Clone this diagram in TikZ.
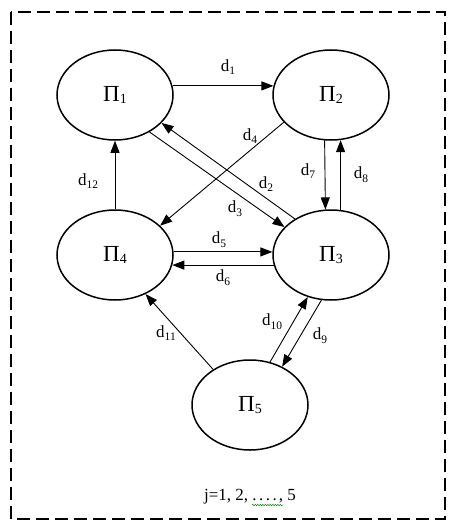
\documentclass[tikz,border=0pt]{standalone}
\usepackage{fontspec}
\setmainfont{Liberation Serif}
\usetikzlibrary{shapes.geometric,arrows.meta,decorations.pathmorphing}
\newcommand\lsub[1]{\raisebox{-0.22em}{\fontsize{11.5}{11.5}\selectfont #1}}
\newcommand\psub[1]{\raisebox{-0.12em}{\fontsize{14}{14}\selectfont #1}}
\tikzset{
  state/.style={draw, ellipse, line width=1.5pt, minimum width=116pt, minimum height=90pt, inner sep=0pt,
    font=\fontsize{23}{23}\selectfont},
  flow/.style={line width=0.9pt, -{Triangle[length=12pt,width=9pt]}},
  lab/.style={font=\fontsize{17}{17}\selectfont, inner sep=0pt},
  frame/.style={line width=2pt, dash pattern=on 13pt off 6pt},
  squiggle/.style={draw=green!55!black, line width=0.5pt, decorate,
    decoration={snake, amplitude=0.7pt, segment length=2.5pt}}
}
\begin{document}
\begin{tikzpicture}[x=1pt,y=-1pt]
\useasboundingbox (0,0) rectangle (459,532);
\draw[frame] (11,12) rectangle (445,519);
\node[state] (p1) at (115,95) {Π\psub{1}};
\node[state] (p2) at (331,95) {Π\psub{2}};
\node[state] (p4) at (115,255) {Π\psub{4}};
\node[state] (p3) at (331,255) {Π\psub{3}};
\node[state] (p5) at (250,405) {Π\psub{5}};
% connectors
\draw[flow] (p1.9) -- (p2.171);
\draw[flow] (p4.90) -- (p1.270);
\draw[flow] (p2.210.8) -- (p4.33.7);
\draw[flow] (p3.135) -- (p1.-31);
\draw[flow] (p1.-47.5) -- (p3.149.5);
\draw[flow] (p2.262.4) -- (p3.97.4);
\draw[flow] (p3.78.9) -- (p2.-78.7);
\draw[flow] (p4.3) -- (p3.177);
\draw[flow] (p3.190) -- (p4.-10);
\draw[flow] (p5.136) -- (p4.-52);
\draw[flow] (p5.65.6) -- (p3.241);
\draw[flow] (p3.258.4) -- (p5.50.5);
% labels
\node[lab] (l1) at (228,67) {d\lsub{1}};
\node[lab] (l12) at (88,181) {d\lsub{12}};
\node[lab] (l4) at (250,136) {d\lsub{4}};
\node[lab] (l2) at (266,184) {d\lsub{2}};
\node[lab] (l3) at (235,209) {d\lsub{3}};
\node[lab] (l7) at (308,171) {d\lsub{7}};
\node[lab] (l8) at (361,175) {d\lsub{8}};
\node[lab] (l5) at (219,240) {d\lsub{5}};
\node[lab] (l6) at (223,278) {d\lsub{6}};
\node[lab] (l11) at (166,333) {d\lsub{11}};
\node[lab] (l10) at (272,322) {d\lsub{10}};
\node[lab] (l9) at (320,336) {d\lsub{9}};
\node[font=\fontsize{17}{17}\selectfont, inner sep=0pt] (jt) at (250,497)
  {j=1, 2, .\kern2.5pt.\kern2.5pt.\kern2.5pt.\kern2pt, 5};
\coordinate (sqa) at (252,505);
\coordinate (sqb) at (283,505);
\draw[squiggle] (sqa) -- (sqb);
\end{tikzpicture}
\end{document}
